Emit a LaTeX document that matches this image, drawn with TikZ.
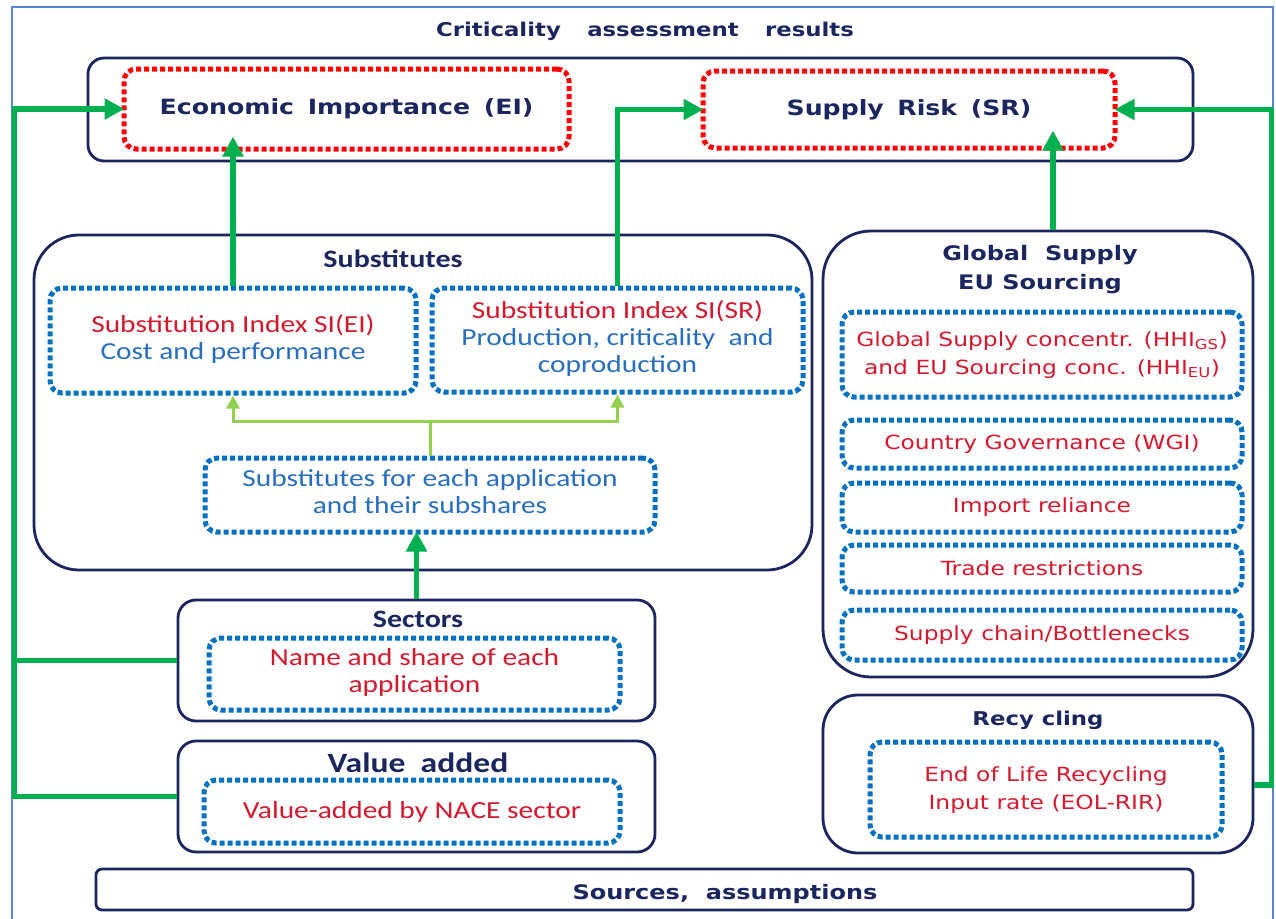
\documentclass[tikz,border=0pt]{standalone}
\usepackage{fontspec}
\usepackage{graphicx}
\setmainfont{DejaVu Sans}
\newfontfamily\calfont{Carlito}
\usetikzlibrary{arrows.meta}
\definecolor{cnavy}{RGB}{28,38,94}
\definecolor{cred}{RGB}{210,25,45}
\definecolor{cblue}{RGB}{40,110,190}
\definecolor{dotblue}{RGB}{0,112,192}
\definecolor{dotred}{RGB}{255,0,0}
\definecolor{cgreen}{RGB}{0,176,80}
\definecolor{lgreen}{RGB}{146,208,80}
\definecolor{frameblue}{RGB}{90,130,215}
\newcommand{\hs}[1]{\scalebox{1.2}[1]{#1}}
\newcommand{\ml}[1]{\hs{\begin{tabular}{@{}c@{}}#1\end{tabular}}}
\begin{document}
\begin{tikzpicture}[x=1pt,y=-1pt,
  obox/.style={draw=cnavy, line width=2.8pt, rounded corners=16pt, inner sep=0pt},
  rdot/.style={draw=dotred, line width=5pt, dash pattern=on 5pt off 3pt, rounded corners=12pt, inner sep=0pt},
  bdot/.style={draw=dotblue, line width=5pt, dash pattern=on 5pt off 3pt, rounded corners=12pt, inner sep=0pt},
  hbold/.style={text=cnavy, font=\bfseries\fontsize{20}{29}\selectfont},
  cbold/.style={text=cnavy, font=\calfont\bfseries\fontsize{25}{28}\selectfont},
  ctext/.style={font=\calfont\fontsize{24.5}{27}\selectfont},
  vtext/.style={text=cred, font=\fontsize{19.5}{28}\selectfont},
  gline/.style={cgreen, line width=5.5pt},
  garrow/.style={gline, -{Triangle[length=20pt,width=20pt]}},
  larrow/.style={lgreen, line width=3pt, -{Triangle[length=13pt,width=13pt]}}]
\useasboundingbox (0,0) rectangle (1276,918);
\fill[white] (0,0) rectangle (1276,918);
\draw[frameblue, line width=1.2pt] (12,7) rectangle (1273,935);

% title
\node[hbold, font=\bfseries\fontsize{19}{24}\selectfont] (title) at (645,31) {\hs{Criticality\hspace{22pt}assessment\hspace{22pt}results}};

% results box
\node[obox, minimum width=1105, minimum height=103] (res) at (640.5,109.5) {};
\node[rdot, minimum width=445, minimum height=80, hbold, font=\bfseries\fontsize{21}{26}\selectfont] (ei) at (346.5,109) {\hs{Economic\hspace{4pt} Importance\hspace{4pt} (EI)}};
\node[rdot, minimum width=412, minimum height=77, hbold, font=\bfseries\fontsize{21}{26}\selectfont] (sr) at (909,109.5) {\hs{Supply\hspace{4pt} Risk\hspace{4pt} (SR)}};

% substitutes
\node[obox, rounded corners=45pt, minimum width=778, minimum height=335] (subst) at (423,402.5) {};
\node[cbold] (substt) at (393,259) {\hs{Substitutes}};
\node[bdot, minimum width=366, minimum height=105, ctext] (siei) at (233,340.5)
  {\ml{\textcolor{cred}{Substitution Index SI(EI)}\\ \textcolor{cblue}{Cost and performance}}};
\node[bdot, minimum width=371, minimum height=104, ctext] (sisr) at (617.5,340)
  {\ml{\textcolor{cred}{Substitution Index SI(SR)}\\ \textcolor{cblue}{Production, criticality\ \ and}\\ \textcolor{cblue}{coproduction}}};
\node[bdot, minimum width=450, minimum height=74, ctext, text=cblue] (subs) at (430,495)
  {\ml{Substitutes for each application\\ and their subshares}};

% sectors
\node[obox, rounded corners=18pt, minimum width=477, minimum height=121] (sectors) at (416.5,660.5) {};
\node[cbold] (sectt) at (418,619) {\hs{Sectors}};
\node[bdot, minimum width=411, minimum height=72, ctext, text=cred] (name) at (414.5,674)
  {\ml{Name and share of each\\ application}};

% value added
\node[obox, rounded corners=18pt, minimum width=477, minimum height=111] (valueadded) at (416.5,796.5) {};
\node[cbold, font=\calfont\bfseries\fontsize{28}{30}\selectfont] (vatt) at (418,763) {\hs{Value\ \ added}};
\node[bdot, minimum width=416, minimum height=63, ctext, text=cred] (vanace) at (412,811.5)
  {\hs{Value-added by NACE sector}};

% global supply
\node[obox, rounded corners=48pt, minimum width=430, minimum height=446] (gs) at (1038,454) {};
\node[hbold, align=center] (gstt) at (1040,269) {\ml{Global\ \ Supply\\ EU Sourcing}};
\node[bdot, minimum width=400, minimum height=85, vtext] (g1) at (1042,354.5)
  {\ml{Global Supply concentr. (HHI\textsubscript{GS})\\ and EU Sourcing conc. (HHI\textsubscript{EU})}};
\node[bdot, minimum width=400, minimum height=48, vtext] (g2) at (1042,444) {\hs{Country Governance (WGI)}};
\node[bdot, minimum width=400, minimum height=49, vtext] (g3) at (1042,507.5) {\hs{Import reliance}};
\node[bdot, minimum width=400, minimum height=47, vtext] (g4) at (1042,568.5) {\hs{Trade restrictions}};
\node[bdot, minimum width=400, minimum height=50, vtext] (g5) at (1042,635) {\hs{Supply chain/Bottlenecks}};

% recycling
\node[obox, rounded corners=35pt, minimum width=430, minimum height=158] (rec) at (1038,774) {};
\node[hbold, font=\bfseries\fontsize{19}{24}\selectfont] (rectt) at (1038,720) {\hs{Recy cling}};
\node[bdot, minimum width=352, minimum height=95, vtext] (eol) at (1046,789.5)
  {\ml{End of Life Recycling\\ Input rate (EOL-RIR)}};

% sources
\node[obox, rounded corners=6pt, minimum width=1097, minimum height=41] (sources) at (644.5,889.5) {};
\node[hbold] (srctxt) at (725,894) {\hs{Sources,\ \ assumptions}};

% connectors
\path (ei.west) ++(-107,0) coordinate (L);
\path (sr.east) ++(154,0) coordinate (R);
\path (subs.north) ++(0,-34) coordinate (J);
\draw[lgreen, line width=3pt] (subs.north) -- (J);
\draw[larrow] (J) -| (siei.south);
\draw[larrow] (J) -| (sisr.south);
\draw[garrow, shorten >=-15pt] (siei.north) -- (siei.north |- ei.south);
\draw[garrow, shorten >=-3pt] (sisr.north) |- (sr.west);
\draw[garrow, shorten >=-20pt] ([xshift=15pt]gs.north) -- ([xshift=15pt]gs.north |- sr.south);
\draw[garrow, shorten >=-3pt] (valueadded.west) -| (L) -- (ei.west);
\draw[gline] (sectors.west) -- (sectors.west -| L);
\draw[garrow, shorten >=-3pt] ([yshift=-11pt]rec.east) -| (R) -- (sr.east);
\draw[garrow, shorten >=-3pt] (sectors.north) -- (sectors.north |- subs.south);
\end{tikzpicture}
\end{document}
